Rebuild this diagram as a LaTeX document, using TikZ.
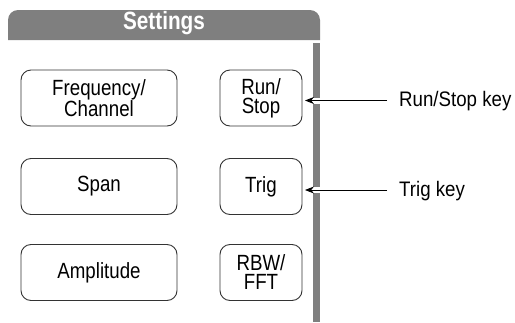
\documentclass[tikz,border=0pt]{standalone}
\usepackage{fontspec}
\setmainfont{Liberation Sans}
\newfontfamily\keyfont[FakeStretch=0.85]{Liberation Sans}
\newfontfamily\lblfont[FakeStretch=0.89]{Liberation Sans}
\newfontfamily\headfont[FakeStretch=0.83]{Liberation Sans Bold}
\usetikzlibrary{arrows.meta}
\definecolor{barc}{HTML}{7F7F7F}
\definecolor{edgec}{HTML}{333333}
\begin{document}
\begin{tikzpicture}[x=1pt,y=-1pt,
  keybox/.style={draw=edgec,line width=0.9pt,rounded corners=10pt,align=center,
    font=\keyfont\fontsize{22}{19}\selectfont,inner sep=0pt},
  widekey/.style={keybox,minimum width=156pt,minimum height=56pt},
  smallkey/.style={keybox,minimum width=82pt,minimum height=56pt},
  lbl/.style={anchor=west,inner xsep=12pt,inner ysep=0pt,font=\lblfont\fontsize{21}{22}\selectfont},
  callout/.style={draw=black,line width=0.8pt,-{Stealth[length=9pt,width=7pt]}}]
\useasboundingbox (0,0) rectangle (515,322);
% header
\fill[barc] (8,40) [rounded corners=10pt] -- (8,10) -- (320,10) [sharp corners] -- (320,40) -- cycle;
\node[text=white,font=\headfont\fontsize{25}{26}\selectfont] (header) at (164,23.5) {Settings};
% vertical bar
\fill[barc] (313,43) rectangle (320,322);
% keys
\node[widekey] (freq) at (99,98) {Frequency/\\Channel};
\node[smallkey] (runstop) at (261,98) {Run/\\Stop};
\node[widekey] (span) at (99,186.5) {Span};
\node[smallkey] (trig) at (261,186.5) {Trig};
\node[widekey] (ampl) at (99,272.5) {Amplitude};
\node[smallkey] (rbw) at (261,272.5) {RBW/\\FFT};
% labels
\node[lbl] (rslbl) at (387,101.5) {Run/Stop key};
\node[lbl] (triglbl) at (387,191) {Trig key};
\coordinate (rstip) at (305,100.5);
\coordinate (trigtip) at (305,190);
% white notches in bar
\fill[white] (312,97.5) rectangle (321,103.5);
\fill[white] (312,187) rectangle (321,193);
\draw[callout] (rslbl.west |- rstip) -- (rstip);
\draw[callout] (triglbl.west |- trigtip) -- (trigtip);
\end{tikzpicture}
\end{document}
